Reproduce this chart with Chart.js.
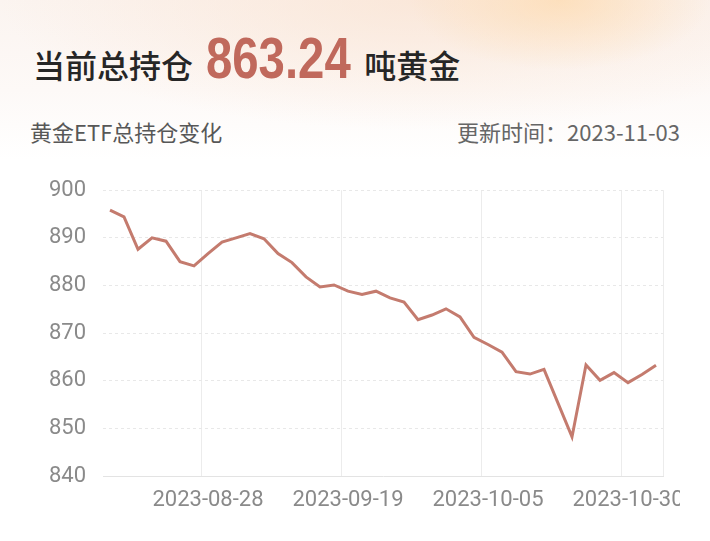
<!DOCTYPE html>
<html>
<head>
<meta charset="utf-8">
<script src="https://cdn.jsdelivr.net/npm/chart.js@4"></script>
<style>
    html, body {
        margin: 0;
        padding: 0;
    }
    body {
        width: 710px;
        height: 541px;
        position: relative;
        overflow: hidden;
        background:
            radial-gradient(ellipse 150px 70px at 560px 0px, rgba(255, 214, 160, 0.55), rgba(255, 214, 160, 0) 100%),
            radial-gradient(ellipse 420px 130px at 420px 0px, rgba(250, 226, 208, 0.7), rgba(250, 226, 208, 0) 100%),
            linear-gradient(to bottom, #fbf4f0 0px, #fdf9f7 90px, #ffffff 160px);
        font-family: "Noto Sans CJK SC", "Noto Sans", sans-serif;
    }
    .headline {
        position: absolute;
        left: 33px;
        top: 30px;
        display: flex;
        align-items: baseline;
        white-space: nowrap;
    }
    .headline .label {
        font-size: 32px;
        font-weight: 500;
        color: #262626;
        line-height: 1;
    }
    .headline .value {
        display: inline-block;
        font-family: "Liberation Sans", Arial, sans-serif;
        font-size: 57px;
        font-weight: 700;
        color: #c0695c;
        line-height: 1;
        transform: scaleX(0.83);
        transform-origin: left center;
        margin: 0 -16px 0 13px;
    }
    .sub {
        position: absolute;
        top: 120px;
        font-size: 22px;
        line-height: 22px;
        white-space: nowrap;
    }
    .sub.left {
        left: 30px;
        color: #575757;
    }
    .sub.right {
        right: 30px;
        color: #666666;
    }
    #holdChart {
        position: absolute;
        left: 30px;
        top: 160px;
    }
</style>
</head>
<body>
<div class="headline">
    <span class="label">当前总持仓</span>
    <span class="value">863.24</span>
    <span class="label">吨黄金</span>
</div>
<div class="sub left">黄金ETF总持仓变化</div>
<div class="sub right">更新时间：2023-11-03</div>
<canvas id="holdChart" width="650" height="381"></canvas>

<script>
const dates = [
    '2023-08-16', '2023-08-17', '2023-08-18', '2023-08-21', '2023-08-22',
    '2023-08-23', '2023-08-24', '2023-08-28', '2023-08-29', '2023-08-30',
    '2023-08-31', '2023-09-01', '2023-09-05', '2023-09-07', '2023-09-11',
    '2023-09-13', '2023-09-15', '2023-09-19', '2023-09-20', '2023-09-21',
    '2023-09-22', '2023-09-25', '2023-09-26', '2023-09-27', '2023-09-28',
    '2023-09-29', '2023-10-03', '2023-10-05', '2023-10-06', '2023-10-10',
    '2023-10-12', '2023-10-13', '2023-10-16', '2023-10-18', '2023-10-20',
    '2023-10-24', '2023-10-26', '2023-10-30', '2023-10-31', '2023-11-02'
];

const holdings = [
    895.8, 894.4, 887.6, 890.0, 889.3, 885.0, 884.1, 886.7, 889.1, 890.0,
    890.9, 889.8, 886.7, 884.8, 881.8, 879.7, 880.1, 878.8, 878.1, 878.8,
    877.4, 876.5, 872.8, 873.8, 875.1, 873.4, 869.1, 867.6, 866.0, 861.9,
    861.4, 862.4, 855.3, 848.2, 863.3, 860.1, 861.7, 859.6, 861.3, 863.24
];

const tickDates = ['2023-08-28', '2023-09-19', '2023-10-05', '2023-10-30'];
const yTicks = [840, 850, 860, 870, 880, 890, 900];

const colors = {
    line: '#c47b6e',
    grid: '#ececec',
    dash: '#e8e8e8',
    axis: '#e3e3e3',
    text: '#8a8a8a'
};

const tickFont = { family: 'Roboto, "Noto Sans", sans-serif', size: 22 };

const ctx = document.getElementById('holdChart').getContext('2d');
const chart = new Chart(ctx, {
    type: 'line',
    data: {
        labels: dates,
        datasets: [{
            label: '黄金ETF总持仓',
            data: holdings,
            borderColor: colors.line,
            borderWidth: 3,
            tension: 0,
            fill: false,
            pointRadius: 0,
            pointHoverRadius: 0
        }]
    },
    options: {
        responsive: false,
        animation: false,
        layout: {
            padding: { top: 28, right: 17, bottom: 29, left: 0 }
        },
        plugins: {
            legend: { display: false },
            tooltip: { enabled: false }
        },
        scales: {
            x: {
                type: 'category',
                offset: true,
                afterFit: function(scale) {
                    scale.height = 36;
                },
                grid: {
                    offset: true,
                    drawTicks: false,
                    lineWidth: 1,
                    color: function(c) {
                        if (c.type === 'scale') return colors.grid;
                        return tickDates.includes(dates[c.index]) ? colors.grid : 'rgba(0,0,0,0)';
                    }
                },
                border: {
                    display: true,
                    color: colors.axis,
                    width: 1
                },
                ticks: {
                    autoSkip: false,
                    maxRotation: 0,
                    padding: 11,
                    color: colors.text,
                    font: tickFont,
                    callback: function(value, index) {
                        return tickDates.includes(dates[index]) ? dates[index] : '';
                    }
                }
            },
            y: {
                min: yTicks[0],
                max: yTicks[yTicks.length - 1],
                afterFit: function(scale) {
                    scale.width = 73;
                },
                afterBuildTicks: function(scale) {
                    scale.ticks = yTicks.map(v => ({ value: v }));
                },
                grid: {
                    drawTicks: false,
                    color: colors.dash,
                    lineWidth: 1
                },
                border: {
                    display: false,
                    dash: [3, 3]
                },
                ticks: {
                    padding: 17,
                    color: colors.text,
                    font: tickFont
                }
            }
        }
    }
});
</script>
</body>
</html>
